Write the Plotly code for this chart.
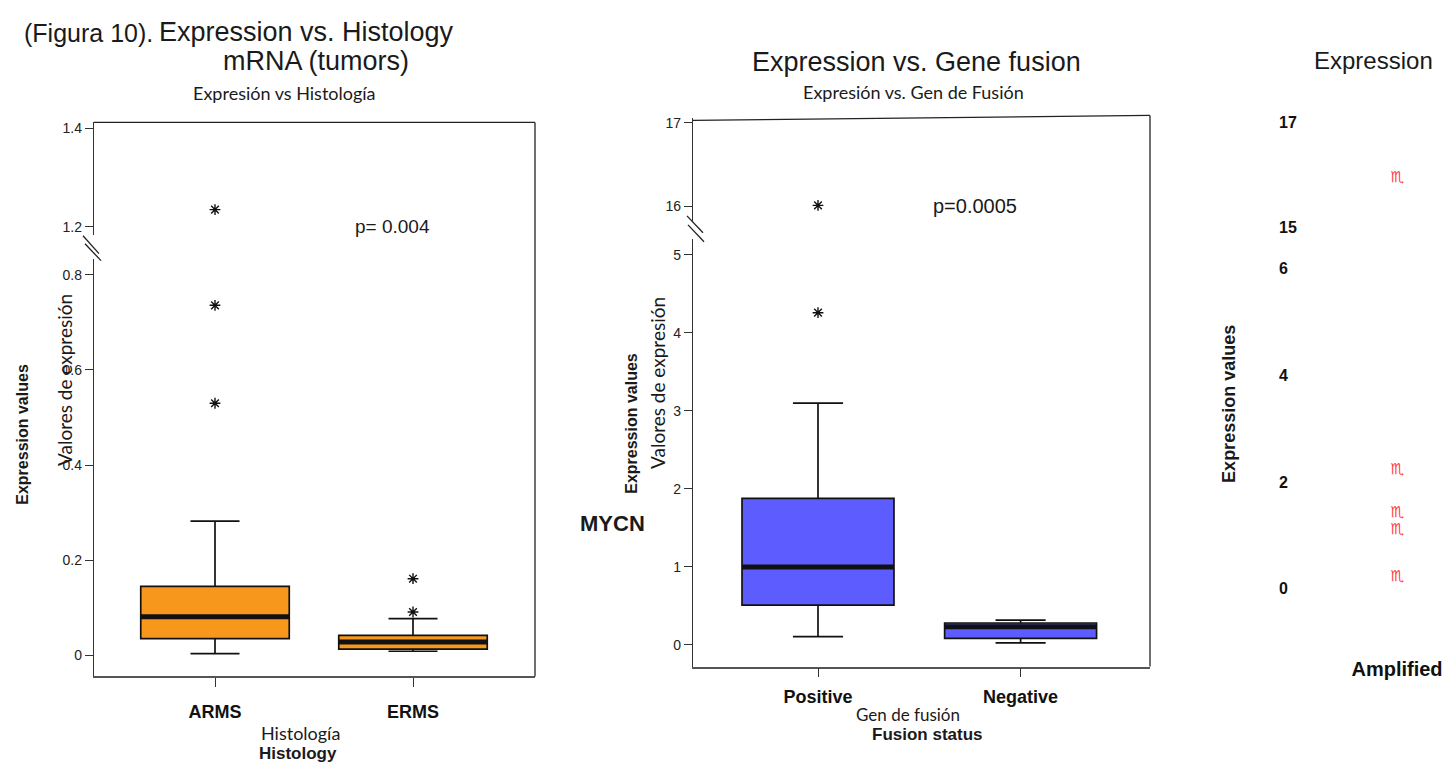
import plotly.graph_objects as go

W, H = 1444, 762

# ---- Histology panel (MYCN mRNA, tumors) ----
hist_categories = ["ARMS", "ERMS"]
hist_q1 = [0.035, 0.013]
hist_median = [0.081, 0.028]
hist_q3 = [0.145, 0.042]
hist_lowerfence = [0.0035, 0.0085]
hist_upperfence = [0.282, 0.077]
hist_outlier_group = [0, 0, 0, 1, 1]
hist_outlier_values = [0.530, 0.736, 1.235, 0.161, 0.091]
hist_ticks_lower = [0, 0.2, 0.4, 0.6, 0.8]
hist_ticks_upper = [1.2, 1.4]
hist_break = 1.0

# ---- Gene fusion panel ----
fusion_categories = ["Positive", "Negative"]
fusion_q1 = [0.51, 0.085]
fusion_median = [1.00, 0.233]
fusion_q3 = [1.88, 0.281]
fusion_lowerfence = [0.106, 0.026]
fusion_upperfence = [3.10, 0.319]
fusion_outlier_group = [0, 0]
fusion_outlier_values = [4.26, 16.01]
fusion_ticks_lower = [0, 1, 2, 3, 4, 5]
fusion_ticks_upper = [16, 17]
fusion_break = 10.0

# ---- Amplification panel ----
amp_categories = ["Amplified"]
amp_group = [0, 0, 0, 0, 0]
amp_values = [15.93, 2.22, 1.41, 1.09, 0.21]
amp_ticks_lower = [0, 2, 4, 6]
amp_ticks_upper = [15, 17]
amp_break = 10.0

ORANGE = "#F7981D"
BLUE = "#5C5CFF"
RED = "#FF3B3B"
INK = "#111111"
SANS = "Liberation Sans"
SOFT = "Lato"
BOX_W = 0.75


def fx(px):
    return px / W


def fy(py):
    return 1 - py / H


def dom(top_px, bottom_px):
    return [fy(bottom_px), fy(top_px)]


def vrange(ref_val, ref_px, px_per_unit, top_px, bottom_px):
    return [ref_val - (bottom_px - ref_px) / px_per_unit,
            ref_val + (ref_px - top_px) / px_per_unit]


def hrange(left_px, right_px, zero_px, px_per_unit):
    return [(left_px - zero_px) / px_per_unit, (right_px - zero_px) / px_per_unit]


def split(groups, values, cut):
    lo = [(g, v) for g, v in zip(groups, values) if v < cut]
    hi = [(g, v) for g, v in zip(groups, values) if v >= cut]
    return lo, hi


def median_segments(medians, half):
    xs, ys = [], []
    for i, m in enumerate(medians):
        xs += [i - half, i + half, None]
        ys += [m, m, None]
    return xs, ys


fig = go.Figure()


def add_boxes(cats, q1, med, q3, lo, hi, color, xa, ya):
    pos = list(range(len(cats)))
    fig.add_trace(go.Box(
        x=pos, q1=q1, median=med, q3=q3, lowerfence=lo, upperfence=hi,
        width=BOX_W, whiskerwidth=0.33, boxpoints=False,
        fillcolor=color, line=dict(color=INK, width=1.7),
        xaxis=xa, yaxis=ya, hoverinfo="skip"))
    mx, my = median_segments(med, BOX_W / 2)
    fig.add_trace(go.Scatter(x=mx, y=my, mode="lines",
                             line=dict(color=INK, width=5),
                             xaxis=xa, yaxis=ya, hoverinfo="skip"))


def add_stars(pairs, xa, ya):
    if not pairs:
        return
    fig.add_trace(go.Scatter(
        x=[p[0] for p in pairs], y=[p[1] for p in pairs], mode="markers",
        marker=dict(symbol="asterisk-open", size=9, color=INK,
                    line=dict(color=INK, width=1.4)),
        xaxis=xa, yaxis=ya, hoverinfo="skip"))


# Histology boxes
add_boxes(hist_categories, hist_q1, hist_median, hist_q3,
          hist_lowerfence, hist_upperfence, ORANGE, "x", "y")
h_lo, h_hi = split(hist_outlier_group, hist_outlier_values, hist_break)
add_stars(h_lo, "x", "y")
add_stars(h_hi, "x", "y2")

# Gene fusion boxes
add_boxes(fusion_categories, fusion_q1, fusion_median, fusion_q3,
          fusion_lowerfence, fusion_upperfence, BLUE, "x2", "y3")
f_lo, f_hi = split(fusion_outlier_group, fusion_outlier_values, fusion_break)
add_stars(f_lo, "x2", "y3")
add_stars(f_hi, "x2", "y4")

# Amplification points
a_lo, a_hi = split(amp_group, amp_values, amp_break)
for pairs, ya in ((a_lo, "y5"), (a_hi, "y6")):
    fig.add_trace(go.Scatter(
        x=[p[0] for p in pairs], y=[p[1] for p in pairs], mode="text",
        text=["\u264F"] * len(pairs), textposition="middle center",
        textfont=dict(family="DejaVu Sans", size=15, color=RED),
        xaxis="x3", yaxis=ya, hoverinfo="skip"))

tick_font = dict(family=SANS, size=14, color="#222222")
cat_font = dict(family=SANS, size=18, color=INK, weight="bold")

common_y = dict(showgrid=False, zeroline=False, showline=True, linecolor="#333333",
                linewidth=1.3, ticks="outside", ticklen=8, tickcolor="#333333",
                tickfont=tick_font, tickmode="array", fixedrange=True)
common_x = dict(showgrid=False, zeroline=False, showline=True, linecolor="#555555",
                linewidth=1.6, ticks="outside", ticklen=9, tickcolor="#333333",
                tickfont=cat_font, tickmode="array", fixedrange=True)

fig.update_layout(
    width=W, height=H, margin=dict(l=0, r=0, t=0, b=0),
    paper_bgcolor="white", plot_bgcolor="white", showlegend=False,
    xaxis=dict(**common_x, domain=[fx(94), fx(535)], anchor="y",
               range=hrange(94, 535, 215, 198),
               tickvals=list(range(len(hist_categories))), ticktext=hist_categories,
               ticklabelstandoff=9),
    yaxis=dict(**common_y, domain=dom(256, 676), anchor="x",
               range=vrange(0, 654.7, 478, 256, 676), tickvals=hist_ticks_lower),
    yaxis2=dict(**common_y, domain=dom(119, 232), anchor="x",
                range=vrange(1.2, 224, 495, 119, 232), tickvals=hist_ticks_upper),
    xaxis2=dict(**common_x, domain=[fx(693), fx(1150)], anchor="y3",
                range=hrange(693, 1150, 818, 202.6),
                tickvals=list(range(len(fusion_categories))), ticktext=fusion_categories,
                ticklabelstandoff=4),
    yaxis3=dict(**common_y, domain=dom(236, 666), anchor="x2",
                range=vrange(0, 644.3, 78.4, 236, 666), tickvals=fusion_ticks_lower),
    yaxis4=dict(**common_y, domain=dom(115, 218), anchor="x2",
                range=vrange(16, 203.3, 84, 115, 218), tickvals=fusion_ticks_upper),
    xaxis3=dict(showgrid=False, zeroline=False, showline=False, ticks="",
                domain=[fx(1305), 1.0], anchor="y5",
                range=hrange(1305, 1444, 1397, 200),
                tickmode="array", tickvals=list(range(len(amp_categories))),
                ticktext=amp_categories, ticklabelstandoff=4,
                tickfont=dict(family=SANS, size=20, color=INK, weight="bold"),
                fixedrange=True),
    yaxis5=dict(showgrid=False, zeroline=False, showline=False, ticks="",
                domain=dom(250, 650), anchor="free", position=fx(1278), side="right",
                range=vrange(0, 587.8, 53.6, 250, 650),
                tickmode="array", tickvals=amp_ticks_lower,
                tickfont=dict(family=SANS, size=16, color=INK, weight="bold"),
                fixedrange=True),
    yaxis6=dict(showgrid=False, zeroline=False, showline=False, ticks="",
                domain=dom(100, 235), anchor="free", position=fx(1278), side="right",
                range=vrange(17, 119, 52.75, 100, 235),
                tickmode="array", tickvals=amp_ticks_upper,
                tickfont=dict(family=SANS, size=16, color=INK, weight="bold"),
                fixedrange=True),
)


def line(x0, y0, x1, y1, color="#222222", width=1.3):
    fig.add_shape(type="line", xref="paper", yref="paper",
                  x0=fx(x0), y0=fy(y0), x1=fx(x1), y1=fy(y1),
                  line=dict(color=color, width=width))


# plot frames (top and right edges)
line(94, 119, 535, 119)
line(535, 119, 535, 676)
line(693, 117, 1150, 112)
line(1150, 112, 1150, 666)
# axis break marks
line(83, 233, 99, 251)
line(85, 241, 101, 258)
line(687, 213, 703, 230)
line(688, 222, 704, 239)


def note(text, x, y, size, family=SANS, bold=False, xanchor="center", angle=0,
         color="#1a1a1a"):
    fig.add_annotation(text=text, x=fx(x), y=fy(y), xref="paper", yref="paper",
                       xanchor=xanchor, yanchor="middle", showarrow=False,
                       textangle=angle,
                       font=dict(family=family, size=size, color=color,
                                 weight="bold" if bold else "normal"))


# headings
note("(Figura 10).", 22, 29, 25, xanchor="left")
note("Expression vs. Histology", 306, 28, 27)
note("mRNA (tumors)", 316, 57, 27)
note("Expresión vs Histología", 284, 89, 18, family=SOFT)
note("Expression vs. Gene fusion", 916, 58, 27)
note("Expresión vs. Gen de Fusión", 914, 88, 18, family=SOFT)
note("Expression", 1312, 57, 24, xanchor="left")

# p-values
note("p= 0.004", 392, 224, 19)
note("p=0.0005", 975, 203, 20)

# y-axis titles
note("Expression values", 23, 433, 16, bold=True, angle=-90)
note("Valores de expresión", 64, 378, 19, family=SOFT, angle=-90)
note("Expression values", 632, 422, 16, bold=True, angle=-90)
note("Valores de expresión", 657, 381, 19, family=SOFT, angle=-90)
note("MYCN", 578, 522, 22, bold=True, xanchor="left")
note("Expression values", 1229, 402, 18, bold=True, angle=-90)

# x-axis titles
note("Histología", 300, 733, 18, family=SOFT)
note("Histology", 298, 753, 17, bold=True)
note("Gen de fusión", 908, 714, 17, family=SOFT)
note("Fusion status", 927, 734, 17, bold=True)

fig.write_html("out.html")
